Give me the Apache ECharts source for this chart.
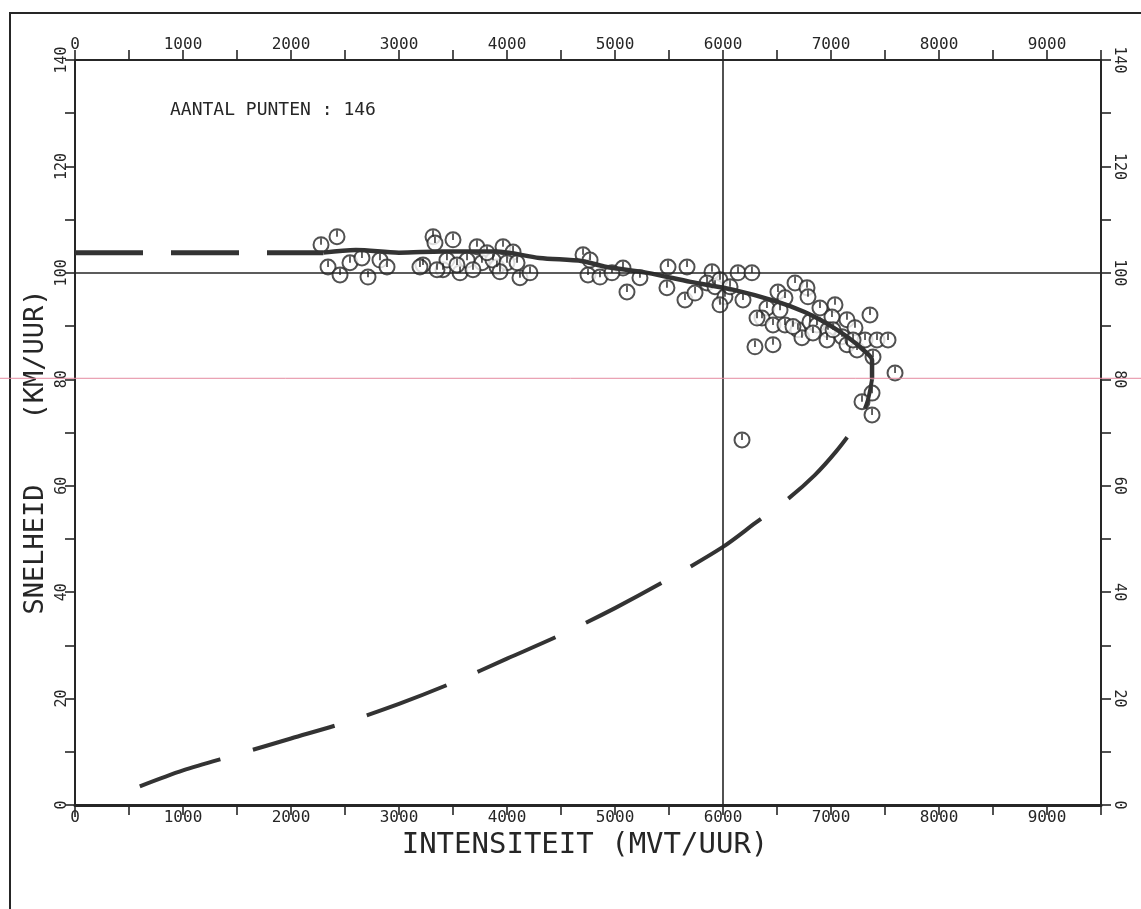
<!DOCTYPE html>
<html><head><meta charset="utf-8">
<script src="https://cdn.jsdelivr.net/npm/echarts@6/dist/echarts.min.js"></script>
<style>html,body{margin:0;padding:0;background:#fff}#c{width:1141px;height:909px}</style>
</head><body><div id="c"></div>
<script>
// ---- data ----
const xTickLabels = [0,1000,2000,3000,4000,5000,6000,7000,8000,9000];
const yTickLabels = [0,20,40,60,80,100,120,140];
const pointCount = 146;
const refSpeed = 100;     // horizontal reference line (km/uur)
const refFlow = 6000;     // vertical reference line (mvt/uur)
const markerSpeed = 80;   // faint red line in the scan

// observed points (intensiteit, snelheid)
const obsQ = [2278,2426,2343,2454,2546,2657,2713,2824,2889,3222,3315,3333,3500,3407,3565,3444,3630,3722,3768,3963,4056,3907,4120,4213,4704,4750,3870,4000,
  4861,5074,5111,5231,5491,5667,5481,5648,5741,5898,5852,5926,6018,5972,6139,6268,6185,6667,6778,6787,6509,6574,6407,6361,6463,6574,6694,6805,6731,6296,6463,
  6898,7037,6870,7009,7148,7222,7361,7102,7148,7241,7315,7426,7528,7389,7593,7380,7287,7380,6972,6963,6176,
  3194,3352,3537,3685,3815,3935,4093,4769,4972,5972,6065,6528,6833,7019,7204,6648,6315];
const obsV = [105.3,106.8,101.1,99.6,101.9,102.8,99.2,102.4,101.1,101.5,106.8,105.6,106.2,100.6,100.0,102.4,102.4,104.9,101.9,104.9,103.9,101.1,99.1,100.0,103.4,99.6,102.4,101.9,
  99.2,100.9,96.4,99.1,101.1,101.1,97.2,94.9,96.2,100.2,98.1,97.4,95.5,98.7,100.0,100.0,94.9,98.1,97.2,95.5,96.4,95.3,93.4,91.5,90.2,90.2,89.3,90.8,87.8,86.1,86.5,
  93.4,94.0,90.2,91.7,91.2,89.7,92.1,88.0,86.5,85.5,87.4,87.4,87.4,84.2,81.2,77.4,75.8,73.3,89.3,87.4,68.6,
  101.1,100.6,101.5,100.6,103.8,100.2,101.9,102.4,100.0,94.0,97.4,93.0,88.7,89.3,87.4,89.9,91.5];

// fitted curve: free-flow dashed part, observed solid part, congested dashed part
const freeQ = [0,2300];
const freeV = [103.8,103.8];
const fitQ = [2300,2600,3000,3400,3900,4300,4700,4900,5300,5700,6100,6500,6750,6950,7150,7300,7380,7380];
const fitV = [103.8,104.3,103.8,104.0,104.0,102.8,102.2,101.2,100.0,98.3,96.8,94.6,92.7,90.6,88.0,85.5,83.6,80.0];
const congQ = [600,1000,1500,2000,2500,3000,3500,4000,4500,5000,5500,6000,6300,6600,6850,7050,7200,7280,7340,7380];
const congV = [3.5,6.5,9.5,12.5,15.5,19,23,27.5,32,37,42.5,48.5,53,57.5,62,66.5,70.5,73,76,80];

// ---- chart ----
const zip = (a,b) => a.map((v,i)=>[v,b[i]]);
const chart = echarts.init(document.getElementById('c'), null, {renderer:'canvas'});
const ink = '#262626';
const tickFont = "'DejaVu Sans Mono',monospace";
function xAxisCfg(pos, w, m){
  return {type:'value', position:pos, min:0, max:9500, interval:500,
    axisLine:{show:true, onZero:false, lineStyle:{color:ink, width:w}},
    axisTick:{show:true, inside:false, length:10, lineStyle:{color:ink, width:1.6}},
    axisLabel:{show:true, margin:m, color:ink, fontFamily:tickFont, fontSize:16,
      formatter: v => xTickLabels.includes(v) ? String(v) : ''},
    splitLine:{show:false}};
}
function yAxisCfg(pos, rot, m){
  return {type:'value', position:pos, min:0, max:140, interval:10,
    axisLine:{show:true, onZero:false, lineStyle:{color:ink, width:2}},
    axisTick:{show:true, inside:false, length:10, lineStyle:{color:ink, width:1.6}},
    axisLabel:{show:true, rotate:rot, margin:m, color:ink, fontFamily:tickFont, fontSize:15,
      formatter: v => yTickLabels.includes(v) ? String(v) : ''},
    splitLine:{show:false}};
}
const option = {
  backgroundColor:'#fff',
  animation:false,
  grid:{left:75, right:40, top:60, bottom:104, containLabel:false},
  xAxis:[xAxisCfg('bottom',3,5), xAxisCfg('top',2,7)],
  yAxis:[yAxisCfg('left',90,5), yAxisCfg('right',-90,10)],
  series:[
    {type:'line', data:zip(freeQ,freeV), showSymbol:false, symbol:'none',
      lineStyle:{color:'#333', width:5, type:[68,28], cap:'butt'},
      markLine:{silent:true, symbol:'none', label:{show:false},
        lineStyle:{color:ink, width:1.6, type:'solid'},
        data:[{yAxis:refSpeed},{xAxis:refFlow}]}},
    {type:'line', data:zip(fitQ,fitV), showSymbol:false, symbol:'none', smooth:0.3,
      lineStyle:{color:'#333', width:4.5}},
    {type:'line', data:zip(congQ,congV), showSymbol:false, symbol:'none', smooth:0.3,
      lineStyle:{color:'#333', width:4, type:[85,34], cap:'butt'}},
    {type:'scatter', data:zip(obsQ,obsV), symbol:'circle', symbolSize:15,
      itemStyle:{color:'#fff', borderColor:ink, borderWidth:2}},
    {type:'scatter', data:zip(obsQ,obsV), symbol:'rect', symbolSize:[1.8,6.5], symbolOffset:[0,-3.2],
      itemStyle:{color:ink}}
  ]
};
chart.setOption(option);
const yPink = chart.convertToPixel({yAxisIndex:0}, markerSpeed);
chart.setOption({graphic:[
  {type:'rect', shape:{x:10, y:13, width:1200, height:1000}, style:{fill:null, stroke:ink, lineWidth:2}, silent:true},
  {type:'line', shape:{x1:0, y1:yPink-1, x2:1141, y2:yPink-1}, style:{stroke:'#e48aa0', lineWidth:1}, silent:true, z:100},
  {type:'text', x:170, y:110, style:{text:'AANTAL PUNTEN : ' + pointCount, fill:ink, verticalAlign:'middle', font:"18px 'DejaVu Sans Mono',monospace"}},
  {type:'text', x:585, y:845, style:{text:'INTENSITEIT (MVT/UUR)', fill:ink, align:'center', verticalAlign:'middle', font:"29px 'DejaVu Sans Mono',monospace"}},
  {type:'text', x:36, y:452, rotation:Math.PI/2, style:{text:'SNELHEID    (KM/UUR)', fill:ink, align:'center', verticalAlign:'middle', font:"27px 'DejaVu Sans Mono',monospace"}}
]});
</script></body></html>
